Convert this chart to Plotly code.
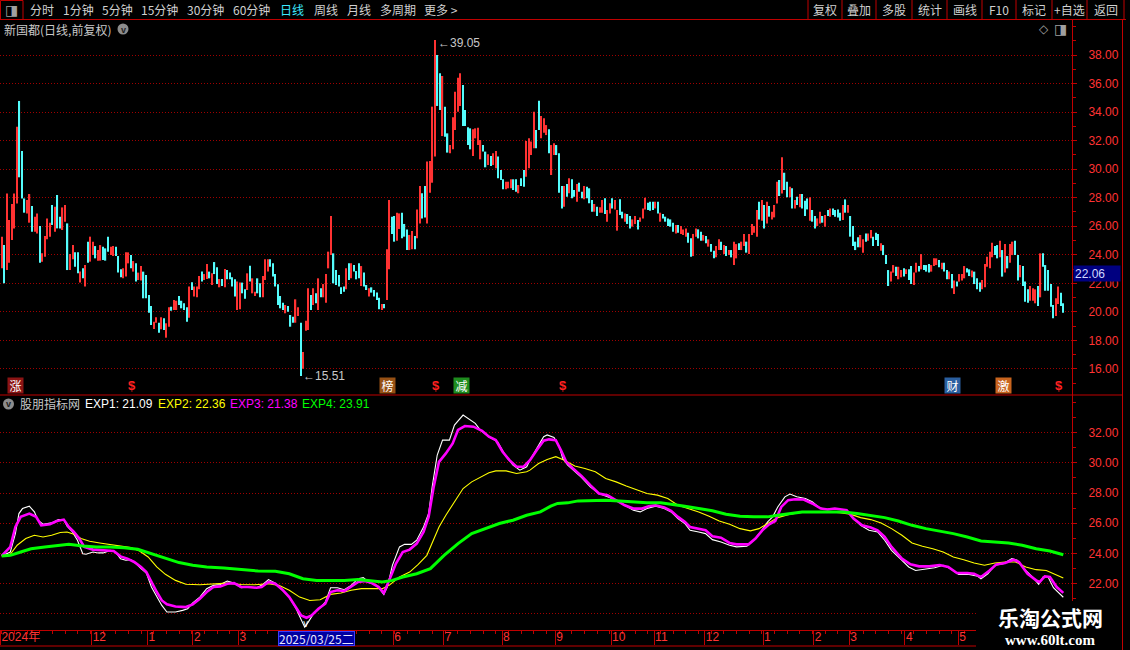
import plotly.graph_objects as go

# ---------------- data ----------------
hi = [25.27, 24.68, 28.30, 26.44, 27.56, 28.30, 32.98, 34.78, 31.27, 27.95,
      27.84, 28.26, 27.42, 26.67, 26.90, 26.02, 24.10, 25.32, 26.55, 26.25,
      27.49, 27.37, 28.19, 26.67, 27.32, 27.49, 26.20, 24.05, 24.68, 24.17,
      24.17, 22.82, 23.05, 23.28, 24.92, 25.27, 24.92, 24.61, 24.33, 24.68,
      24.57, 24.45, 25.27, 24.57, 24.61, 24.57, 23.91, 22.98, 23.05, 24.17,
      24.17, 23.98, 23.56, 23.40, 22.75, 23.21, 22.82, 22.58, 21.18, 20.41,
      19.31, 19.62, 19.24, 19.62, 19.55, 19.20, 20.32, 20.36, 20.83, 20.78,
      21.11, 20.78, 20.60, 20.32, 21.77, 22.07, 21.77, 21.77, 22.51, 22.82,
      22.65, 23.35, 22.82, 22.70, 23.49, 23.12, 22.30, 22.30, 23.00, 22.93,
      22.75, 22.42, 22.28, 22.12, 22.05, 22.05, 21.58, 22.70, 23.24, 22.35,
      21.41, 22.35, 22.00, 22.51, 23.68, 23.68, 23.68, 23.40, 22.65, 21.93,
      21.11, 20.64, 20.48, 20.41, 19.78, 19.66, 20.88, 20.32, 19.24, 17.19,
      19.38, 21.65, 21.18, 21.65, 21.30, 22.35, 21.65, 21.95, 22.65, 24.22,
      26.72, 24.10, 22.93, 22.58, 21.72, 21.77, 23.05, 23.40, 23.40, 23.28,
      22.86, 23.40, 23.21, 22.75, 21.88, 21.65, 21.72, 21.53, 21.35, 20.99,
      20.55, 20.55, 24.38, 27.84, 26.67, 26.72, 26.95, 26.90, 26.95, 26.16,
      25.78, 25.39, 25.67, 25.32, 27.18, 28.82, 28.31, 28.82, 30.53, 30.57,
      34.38, 39.05, 38.00, 36.72, 36.53, 34.38, 32.51, 31.69, 33.63, 35.43,
      36.41, 36.72, 35.89, 34.15, 32.93, 32.86, 32.79, 32.86, 32.91, 32.04,
      31.69, 31.23, 31.04, 30.92, 31.11, 31.27, 30.88, 29.94, 29.29, 29.12,
      29.12, 29.29, 29.29, 29.29, 28.89, 29.36, 29.94, 31.97, 32.16, 31.93,
      34.03, 32.74, 34.80, 33.73, 33.56, 33.09, 32.79, 31.69, 31.81, 31.69,
      31.11, 28.82, 28.82, 28.96, 29.36, 29.29, 28.54, 28.96, 29.05, 28.42,
      28.82, 28.77, 28.66, 27.84, 27.56, 27.37, 27.33, 27.84, 27.96, 27.14,
      27.61, 27.96, 27.84, 27.14, 27.89, 27.02, 26.90, 26.86, 26.72, 26.48,
      26.72, 26.44, 26.62, 27.25, 28.00, 27.65, 27.72, 27.72, 27.72, 27.72,
      26.95, 26.86, 26.67, 26.55, 26.48, 26.25, 26.09, 26.09, 26.02, 25.78,
      25.85, 25.55, 25.15, 25.46, 25.85, 25.78, 25.62, 25.39, 25.32, 25.08,
      24.75, 24.29, 24.61, 25.08, 24.92, 24.68, 24.61, 24.33, 24.33, 24.92,
      24.75, 24.80, 24.92, 25.46, 24.92, 25.46, 26.16, 26.02, 27.14, 27.72,
      27.84, 27.49, 27.72, 27.42, 27.02, 27.49, 29.12, 29.24, 30.83, 29.75,
      29.12, 28.77, 28.66, 27.84, 28.07, 28.26, 28.26, 27.79, 27.95, 28.03,
      27.14, 26.72, 26.55, 27.02, 26.72, 26.79, 27.14, 27.25, 27.25, 27.14,
      27.18, 26.95, 27.49, 27.88, 27.49, 26.72, 26.02, 24.92, 25.22, 25.39,
      25.08, 25.50, 25.50, 25.74, 25.27, 25.55, 25.46, 24.80, 24.68, 23.98,
      22.93, 22.82, 23.28, 23.16, 23.16, 22.93, 23.05, 22.98, 22.98, 23.21,
      22.75, 23.45, 23.21, 24.05, 23.28, 23.28, 23.35, 23.28, 23.75, 23.75,
      23.63, 23.45, 23.45, 22.93, 22.82, 22.65, 22.19, 22.12, 22.65, 22.65,
      23.21, 23.05, 22.98, 22.89, 22.82, 22.35, 22.05, 22.23, 23.35, 23.87,
      24.22, 24.85, 24.61, 24.68, 24.99, 24.33, 24.75, 23.91, 24.75, 24.92,
      24.99, 23.98, 23.28, 23.21, 22.12, 21.58, 21.81, 21.65, 21.58, 21.81,
      24.10, 24.10, 23.28, 22.93, 21.95, 20.48, 20.95, 21.77, 21.34, 20.60]

lo = [23.05, 22.00, 22.93, 23.45, 25.04, 25.85, 27.60, 29.43, 27.95, 26.95,
      26.90, 26.25, 25.62, 25.62, 25.50, 23.45, 23.52, 23.87, 25.08, 25.27,
      26.09, 25.62, 25.85, 25.85, 25.74, 26.32, 22.93, 22.93, 23.68, 23.17,
      22.70, 22.05, 22.35, 21.77, 23.45, 23.52, 23.98, 23.75, 23.59, 23.59,
      23.63, 23.59, 24.22, 23.98, 23.91, 23.91, 22.75, 22.42, 22.35, 22.47,
      23.40, 23.05, 22.82, 22.12, 22.23, 22.19, 20.95, 20.95, 19.94, 19.08,
      18.80, 19.24, 18.54, 18.78, 18.73, 18.19, 18.96, 20.08, 20.13, 20.13,
      20.48, 20.25, 20.13, 19.31, 19.59, 21.53, 21.07, 21.02, 21.58, 22.12,
      22.23, 22.30, 22.35, 21.88, 22.65, 21.95, 21.72, 21.81, 21.72, 22.28,
      22.28, 21.77, 21.07, 20.13, 20.18, 21.30, 20.92, 21.53, 22.12, 21.30,
      21.11, 21.30, 21.02, 21.02, 22.23, 22.82, 23.17, 22.47, 21.77, 20.48,
      20.25, 20.13, 19.90, 20.01, 18.96, 19.24, 19.24, 19.71, 15.51, 16.02,
      18.68, 18.73, 20.13, 20.48, 20.60, 20.13, 21.02, 21.02, 20.64, 23.05,
      23.98, 22.00, 21.88, 21.77, 21.25, 21.41, 21.58, 22.23, 22.35, 22.82,
      22.28, 22.35, 21.81, 21.77, 21.53, 21.07, 21.35, 21.07, 20.83, 20.18,
      20.13, 20.25, 20.83, 22.98, 25.46, 24.92, 24.99, 25.81, 25.15, 25.27,
      24.33, 24.33, 24.38, 24.38, 25.15, 26.20, 26.55, 26.62, 26.20, 28.35,
      29.05, 30.88, 34.43, 34.15, 32.32, 32.28, 31.16, 31.11, 31.39, 32.74,
      34.03, 34.43, 33.02, 33.02, 31.69, 31.39, 30.92, 32.16, 31.69, 30.69,
      31.23, 30.13, 30.29, 30.22, 30.29, 30.06, 29.36, 29.24, 28.59, 28.59,
      28.66, 28.66, 28.54, 28.42, 28.31, 28.82, 28.77, 29.47, 30.06, 30.99,
      31.46, 31.46, 32.74, 32.16, 32.56, 32.39, 31.11, 29.59, 30.99, 30.99,
      28.35, 27.25, 27.37, 28.07, 28.31, 27.96, 28.07, 27.72, 28.42, 27.96,
      27.89, 27.96, 27.61, 27.02, 27.02, 26.72, 26.95, 26.95, 26.86, 26.32,
      26.90, 27.25, 27.18, 25.69, 26.79, 26.55, 26.32, 26.16, 25.85, 25.97,
      26.16, 25.78, 26.32, 26.55, 27.18, 27.14, 27.09, 27.14, 27.25, 26.90,
      26.32, 26.55, 26.32, 26.02, 25.97, 25.62, 25.50, 25.55, 25.46, 25.39,
      25.27, 24.85, 23.87, 23.91, 25.27, 25.15, 24.99, 24.99, 24.80, 24.57,
      24.22, 23.75, 23.82, 24.33, 24.33, 24.05, 23.91, 23.98, 23.82, 23.28,
      23.75, 24.33, 24.33, 24.61, 24.15, 24.05, 25.39, 25.55, 25.27, 26.48,
      26.39, 25.85, 26.20, 26.67, 26.48, 26.62, 27.60, 28.12, 28.30, 28.54,
      28.03, 28.03, 27.25, 27.25, 27.49, 27.33, 27.25, 26.72, 27.18, 26.39,
      26.32, 25.85, 26.02, 26.20, 26.25, 25.97, 26.72, 26.67, 26.79, 26.67,
      26.62, 26.39, 26.44, 26.95, 26.95, 25.27, 24.61, 24.33, 24.52, 24.52,
      24.15, 24.92, 24.99, 25.15, 24.61, 25.04, 24.61, 24.29, 23.98, 23.35,
      21.81, 22.12, 22.75, 22.51, 22.28, 22.42, 22.47, 22.65, 22.23, 21.95,
      21.88, 22.75, 22.82, 22.98, 22.93, 22.82, 22.75, 22.82, 23.21, 23.28,
      23.12, 22.98, 22.82, 22.28, 22.28, 21.65, 21.25, 21.77, 22.12, 22.19,
      22.35, 22.75, 22.51, 22.42, 21.95, 21.58, 21.41, 21.58, 21.72, 23.16,
      23.05, 23.82, 23.98, 23.75, 23.82, 22.47, 22.75, 23.05, 23.45, 23.98,
      23.98, 22.19, 22.42, 21.81, 20.71, 20.64, 20.78, 20.78, 20.60, 20.41,
      21.02, 23.16, 21.48, 21.48, 20.36, 19.55, 19.71, 20.55, 20.41, 19.94]

# r = rising (red), c = falling (cyan)
up = ("rcrrrrrccc" "rrcrrcrrrr" "crccrrcrrc" "crcrcrrcrr" "cccrrcccrr"
      "rcrcrrcccc" "rrcrcrrcrr" "ccccrcrrrc" "rrcrccrcrc" "cccrrccrcr"
      "rccrrrcccc" "ccrcccrrcr" "rrcrcrcrrr" "rcccccrcrc" "ccrccrcccc"
      "rcrrccrrcc" "crrcrrccrr" "rrccrccrrr" "rrccccrrrr" "ccrcrrcccr"
      "rrccrccrrr" "rccrrrcrrc" "ccrcrccrcc" "rcccrcrrcr" "rcrrccrccr"
      "rcrrrcccrc" "rcccccrcrr" "rccrrccrcr" "ccrrcrcrcr" "rcrrcrrrrc"
      "rcrcrrrcrc" "crcrcrcccr" "ccrrcrcrcc" "ccrcrccccr" "rcrrcccrcc"
      "crrcrrcrcc" "rrcrcccrrr" "crccrcrcrr" "rccrcccrrr" "rrccrcrcrr"
      "ccrcccrrrc" "rcccccrrcc")

# month boundaries visible on the time strip (Apr/May under the crosshair box are hidden)
month_ticks = [-0.5, 35.5, 57.5, 75.5, 93.5, 154.5, 174.5, 197.5,
               218.5, 240.5, 257.5, 277.5, 300.5, 320.5, 334.5, 356.5, 377.5]
month_labels = ["2024年", "12", "1", "2", "3", "6", "7", "8",
                "9", "10", "11", "12", "1", "2", "3", "4", "5"]

exp1_x = [0, 3.4, 5.4, 6.8, 8.2, 10.9, 12.9, 14.3, 16.3, 19.7,
          22.4, 24.5, 25.8, 27.9, 29.9, 32.0, 33.3, 36.0, 38.1, 40.1,
          42.8, 44.9, 46.9, 49.0, 51.0, 53.0, 55.0, 57.1, 59.1, 61.2,
          63.2, 65.2, 68.6, 71.4, 73.4, 75.4, 78.2, 80.9, 83.6, 86.3,
          89.0, 91.7, 94.5, 97.2, 100.6, 102.6, 105.3, 108.0, 110.8, 113.5,
          116.2, 118.2, 119.6, 121.0, 123.0, 125.7, 127.7, 129.8, 132.5, 135.2,
          137.9, 140.7, 142.7, 145.4, 148.1, 150.8, 152.2, 154.2, 157.0, 159.0,
          161.7, 163.8, 166.5, 168.5, 169.9, 171.9, 174.0, 176.7, 178.7, 182.1,
          184.1, 186.9, 188.9, 192.3, 195.7, 199.1, 201.8, 204.5, 207.2,
          208.5, 211.2, 213.9, 215.3, 218.0, 220.1, 221.4, 223.4, 226.2, 228.9,
          232.3, 235.7, 239.1, 242.5, 245.9, 249.3, 252.0, 254.7, 258.1, 261.5,
          264.2, 266.9, 269.6, 271.7, 275.1, 277.8, 280.5, 283.9, 287.3, 290.0,
          294.1, 296.8, 299.5, 302.3, 304.3, 306.3, 309.1, 311.1, 313.8, 317.2,
          319.9, 322.6, 325.4, 328.1, 330.8, 333.5, 335.6, 339.0, 342.3, 345.7,
          348.5, 351.2, 354.6, 358.0, 360.7, 364.8, 368.2, 371.6, 374.3, 377.7,
          381.8, 385.2, 386.5, 389.2, 392.0, 395.3, 398.7, 400.8, 404.2, 406.9,
          409.3, 411.0, 413.0, 415.1, 419]
exp1 = [23.83, 24.09, 25.31, 26.64, 26.97, 27.13, 26.75, 26.20, 25.93, 26.02,
        26.24, 26.24, 25.80, 25.42, 24.87, 23.98, 23.94, 24.09, 24.03, 24.03,
        24.20, 24.09, 23.65, 23.54, 23.58, 23.32, 22.99, 22.69, 21.77, 21.10,
        20.55, 20.11, 20.11, 20.22, 20.33, 20.71, 21.10, 21.66, 21.88, 21.94,
        22.17, 22.03, 21.72, 21.77, 21.72, 21.88, 22.26, 22.03, 21.59, 21.10,
        20.33, 19.66, 19.11, 19.44, 19.99, 20.39, 20.77, 21.72, 21.72, 21.59,
        21.88, 22.32, 22.39, 22.03, 21.88, 21.28, 21.77, 23.21, 24.43, 24.60,
        24.60, 24.87, 25.75, 26.64, 28.41, 30.52, 31.51, 31.51, 32.51, 33.17,
        32.95, 32.62, 32.18, 31.73, 31.40, 30.41, 29.85, 29.52, 29.74,
        30.18, 30.96, 31.73, 31.85, 31.69, 31.07, 30.30, 29.85, 29.41, 29.03,
        28.41, 27.97, 27.75, 27.53, 27.19, 26.86, 26.75, 26.97, 27.13, 26.97,
        26.75, 26.31, 25.98, 25.53, 25.42, 25.31, 24.91, 24.76, 24.54, 24.43,
        24.47, 24.87, 25.42, 26.09, 26.42, 27.08, 27.75, 27.93, 27.75, 27.64,
        27.42, 27.04, 26.91, 26.97, 26.91, 26.86, 26.42, 25.86, 25.53, 25.42,
        24.87, 24.20, 23.65, 23.10, 22.87, 22.99, 23.05, 23.21, 22.99, 22.61,
        22.61, 22.48, 22.32, 22.65, 23.21, 23.32, 23.65, 23.54, 22.87, 22.43,
        21.95, 22.43, 22.43, 21.72, 21.09]

exp2_x = [0, 3.4, 6.1, 9.5, 12.9, 16.3, 19.7, 23.1, 25.8, 28.5,
          31.3, 34.7, 38.7, 42.8, 46.9, 51.0, 54.4, 57.8, 61.2, 64.6,
          68.6, 72.7, 78.2, 83.6, 89.0, 94.5, 99.9, 105.3, 109.4, 113.5,
          117.6, 121.6, 125.7, 129.8, 133.9, 137.9, 142.0, 147.5, 150.2, 152.9,
          157.0, 161.0, 164.4, 167.8, 170.5, 172.6, 175.3, 178.7, 182.1, 185.5,
          188.9, 192.3, 195.0, 199.1, 203.2, 207.2,
          208.5, 211.9, 215.3, 218.7, 222.1, 226.2, 230.2, 234.3, 238.4, 242.5,
          246.5, 250.6, 254.7, 258.8, 262.9, 266.9, 271.0, 275.1, 279.2, 283.2,
          287.3, 291.4, 295.5, 298.9, 302.3, 306.3, 310.4, 314.5, 318.6, 322.6,
          326.7, 330.8, 334.9, 339.0, 343.0, 347.1, 351.2, 355.3, 359.3, 363.4,
          367.5, 371.6, 375.6, 379.7, 383.8, 387.9, 392.0, 396.0, 400.1, 404.2,
          408.3, 412.3, 415.1, 419]
exp2 = [23.83, 23.94, 24.54, 24.98, 25.20, 25.09, 25.20, 25.38, 25.42, 25.27,
        24.98, 24.80, 24.69, 24.60, 24.47, 24.38, 24.16, 23.76, 23.10, 22.61,
        22.21, 21.95, 21.92, 21.99, 22.03, 21.94, 21.92, 21.99, 21.88, 21.55,
        21.10, 20.88, 20.93, 21.28, 21.37, 21.55, 21.66, 21.66, 21.66, 21.88,
        22.43, 22.76, 23.27, 23.87, 24.87, 25.75, 26.53, 27.42, 28.30, 28.74,
        29.03, 29.34, 29.47, 29.47, 29.30, 29.41,
        29.52, 29.96, 30.23, 30.41, 30.18, 29.79, 29.63, 29.41, 28.97, 28.74,
        28.46, 28.19, 27.97, 27.86, 27.64, 27.19, 26.97, 26.75, 26.46, 26.15,
        25.93, 25.64, 25.49, 25.64, 25.98, 26.37, 26.57, 26.69, 26.75, 26.75,
        26.75, 26.69, 26.60, 26.37, 26.24, 26.02, 25.64, 25.20, 24.69, 24.47,
        24.31, 24.09, 23.76, 23.58, 23.36, 23.21, 23.36, 23.43, 23.43, 23.10,
        22.92, 22.87, 22.65, 22.36]

exp3_x = [0, 3.4, 5.4, 7.5, 10.9, 13.6, 15.6, 19.0, 21.8, 24.5,
          26.5, 28.5, 30.6, 32.6, 36.0, 40.1, 44.2, 46.9, 49.6, 52.3,
          55.0, 57.1, 59.1, 61.2, 63.2, 65.2, 68.6, 72.7, 75.4, 78.2,
          80.9, 83.6, 86.3, 89.0, 91.7, 94.5, 97.2, 100.6, 102.6, 105.3,
          108.0, 110.8, 113.5, 116.2, 118.2, 120.3, 122.3, 125.0, 127.7, 129.8,
          132.5, 135.2, 137.9, 140.7, 143.4, 146.1, 148.8, 150.8, 152.9, 155.6,
          158.3, 161.0, 163.8, 166.5, 168.5, 170.5, 172.6, 175.3, 178.0, 180.1,
          182.8, 186.2, 189.6, 192.3, 195.0, 197.7, 200.4, 203.2, 205.9,
          208.5, 211.2, 213.9, 216.0, 218.7, 220.7, 222.8, 225.5, 228.9, 232.3,
          235.7, 239.1, 242.5, 245.9, 249.3, 252.7, 255.4, 258.1, 261.5, 264.2,
          266.9, 269.6, 271.7, 275.1, 277.8, 280.5, 283.9, 287.3, 290.0, 294.8,
          297.5, 300.2, 302.9, 305.3, 307.7, 310.4, 313.1, 316.5, 319.9, 323.3,
          326.0, 328.8, 331.5, 333.5, 336.2, 339.6, 343.0, 345.7, 348.5, 351.2,
          355.3, 358.7, 362.1, 366.1, 370.2, 373.6, 377.0, 381.1, 383.8, 386.5,
          389.9, 392.6, 396.0, 399.4, 401.5, 404.9, 408.3, 409.6, 411.7, 413.7,
          416.4, 419]
exp3 = [23.83, 24.43, 25.75, 26.42, 26.64, 26.42, 25.86, 25.93, 26.15, 26.24,
        25.75, 25.42, 24.98, 24.43, 24.25, 24.20, 24.16, 23.80, 23.65, 23.43,
        23.10, 22.76, 22.10, 21.44, 20.88, 20.62, 20.48, 20.44, 20.62, 20.99,
        21.44, 21.77, 21.81, 21.99, 22.03, 21.77, 21.77, 21.72, 21.77, 22.10,
        21.99, 21.59, 21.10, 20.44, 19.88, 19.73, 19.88, 20.33, 20.66, 21.44,
        21.55, 21.50, 21.77, 22.10, 22.17, 22.03, 21.77, 21.37, 22.21, 23.32,
        24.09, 24.25, 24.65, 25.42, 26.42, 28.41, 30.07, 30.63, 31.29, 32.18,
        32.44, 32.40, 32.13, 31.73, 31.51, 30.74, 30.18, 29.74, 29.74,
        30.18, 30.85, 31.47, 31.56, 31.51, 30.85, 30.07, 29.63, 29.12, 28.52,
        27.97, 27.86, 27.53, 27.19, 26.97, 26.97, 27.13, 27.19, 27.04, 26.82,
        26.42, 26.09, 25.75, 25.64, 25.53, 25.13, 25.04, 24.69, 24.60, 24.60,
        24.98, 25.53, 25.93, 26.15, 27.08, 27.53, 27.59, 27.57, 27.31, 26.97,
        26.91, 26.97, 26.91, 26.86, 26.31, 25.86, 25.71, 25.53, 25.09, 24.43,
        23.65, 23.27, 23.14, 23.14, 23.23, 23.10, 22.70, 22.70, 22.65, 22.43,
        22.87, 23.27, 23.36, 23.58, 23.43, 22.65, 22.21, 22.10, 22.48, 22.43,
        21.77, 21.38]

exp4_x = [0, 3.4, 7.5, 11.6, 17.0, 22.4, 26.5, 32.0, 37.4, 42.8,
          48.3, 53.7, 59.1, 64.6, 70.0, 75.4, 80.9, 87.7, 94.5, 101.2,
          108.0, 113.5, 118.9, 124.3, 129.8, 135.2, 140.7, 146.1, 150.2, 154.2,
          158.3, 163.8, 169.2, 174.6, 180.1, 185.5, 191.0, 196.4, 201.8, 207.2,
          212.6, 216.7, 219.4, 223.4, 227.5, 233.0, 238.4, 243.8, 249.3, 254.7,
          260.1, 264.2, 269.6, 275.1, 280.5, 285.9, 291.4, 296.8, 302.3, 306.3,
          310.4, 315.9, 321.3, 326.7, 332.2, 337.6, 343.0, 348.5, 353.9, 359.3,
          364.8, 370.2, 375.6, 381.1, 386.5, 391.9, 397.4, 402.8, 408.3, 413.7,
          419]
exp4 = [23.83, 23.87, 24.09, 24.31, 24.43, 24.54, 24.60, 24.49, 24.43, 24.43,
        24.38, 24.27, 23.98, 23.65, 23.39, 23.21, 23.10, 23.03, 22.94, 22.83,
        22.81, 22.65, 22.32, 22.21, 22.21, 22.21, 22.26, 22.17, 22.10, 22.21,
        22.43, 22.65, 22.99, 23.87, 24.65, 25.31, 25.64, 25.98, 26.20, 26.53,
        26.75, 27.13, 27.31, 27.35, 27.48, 27.53, 27.53, 27.48, 27.42, 27.35,
        27.35, 27.26, 27.13, 26.97, 26.82, 26.60, 26.46, 26.42, 26.42, 26.53,
        26.64, 26.75, 26.75, 26.75, 26.75, 26.64, 26.53, 26.37, 26.15, 25.86,
        25.64, 25.49, 25.31, 25.09, 24.82, 24.76, 24.69, 24.54, 24.31, 24.16,
        23.91]

exp_names = ["EXP1", "EXP2", "EXP3", "EXP4"]
exp_last = [21.09, 22.36, 21.38, 23.91]

top_ticks = [16, 18, 20, 22, 24, 26, 28, 30, 32, 34, 36, 38]
bot_ticks = [20, 22, 24, 26, 28, 30, 32]
bot_labels = ["", "22.00", "24.00", "26.00", "28.00", "30.00", "32.00"]  # 20.00 hidden by watermark

high_idx, high_val = 171, 39.05
low_idx, low_val = 118, 15.51
last_price = 22.06
cross_idx, cross_date = 124.4, "2025/03/25二"

sig_x = [5.6, 51.4, 152.4, 171.4, 181.3, 221.5, 375.4, 395.5, 417.3]
sig_txt = ["涨", "$", "榜", "$", "减", "$", "财", "激", "$"]

# ---------------- styling / layout helpers ----------------
FONT = "Liberation Sans, Noto Sans CJK SC, sans-serif"
CJK = "Noto Sans CJK SC, Liberation Sans, sans-serif"
RED = "#ff3232"
CYAN = "#54fcfc"
LINE = "#c00000"
GRID = "#a00000"
LABEL = "#ff3333"
GREY = "#d0d0d0"

PL, PR, PT, PB = 0, 1072, 20, 630
def xp(px):
    return (px - PL) / (PR - PL)
def yp(py):
    return (PB - py) / (PB - PT)

N = len(hi)
assert len(lo) == N and len(up) == N
first_px, last_px = 1.7, 1063.3
pitch = (last_px - first_px) / (N - 1)
x_range = [-first_px / pitch, (N - 1) + (PR - last_px) / pitch]
split = yp(395)

fig = go.Figure()

up_i = [i for i in range(N) if up[i] == "r"]
dn_i = [i for i in range(N) if up[i] == "c"]
for ids, col in ((up_i, RED), (dn_i, CYAN)):
    fig.add_trace(go.Bar(
        x=ids, base=[lo[i] for i in ids], y=[hi[i] - lo[i] for i in ids],
        width=0.5, marker=dict(color=col, line=dict(width=0)),
        xaxis="x", yaxis="y", hoverinfo="skip", showlegend=False))

for xs, ys, col, w in ((exp1_x, exp1, "#ffffff", 1.1),
                       (exp2_x, exp2, "#ffff00", 1.1),
                       (exp3_x, exp3, "#ff00ff", 2.6),
                       (exp4_x, exp4, "#00ff00", 3.0)):
    fig.add_trace(go.Scatter(x=xs, y=ys, mode="lines",
                             line=dict(color=col, width=w),
                             xaxis="x", yaxis="y2", hoverinfo="skip",
                             showlegend=False))

yaxis_common = dict(
    side="right", anchor="x", showline=True, linecolor=LINE, linewidth=1,
    ticks="outside", ticklen=4, tickcolor=LINE, showgrid=True,
    gridcolor=GRID, griddash="1px,2px", gridwidth=1, zeroline=False,
    tickfont=dict(color=LABEL, size=12, family=FONT), ticklabelstandoff=9,
    minor=dict(ticks="outside", ticklen=3, dtick=1, tick0=0,
               tickcolor=LINE, showgrid=False),
    fixedrange=True)

fig.update_layout(
    width=1130, height=650,
    margin=dict(l=PL, r=1130 - PR, t=PT, b=650 - PB),
    paper_bgcolor="#000000", plot_bgcolor="#000000",
    barmode="overlay", showlegend=False,
    font=dict(family=FONT, color=GREY, size=12),
    xaxis=dict(domain=[0, 1], anchor="y2", range=x_range,
               showgrid=False, zeroline=False, showline=True,
               linecolor=LINE, linewidth=1,
               tickmode="array", tickvals=month_ticks, ticktext=month_labels,
               ticks="outside", ticklen=14, tickcolor=LINE,
               tickfont=dict(color=LABEL, size=12, family=FONT),
               ticklabelposition="outside right", ticklabelstandoff=-4,
               minor=dict(ticks="outside", ticklen=3, dtick=5, tick0=0,
                          tickcolor=LINE),
               fixedrange=True),
    yaxis=dict(domain=[split, 1], range=[14.174, 40.453],
               tickmode="array", tickvals=top_ticks,
               ticktext=[f"{v:.2f}" for v in top_ticks], **yaxis_common),
    yaxis2=dict(domain=[0, split], range=[18.92, 34.50],
                tickmode="array", tickvals=bot_ticks,
                ticktext=bot_labels, **yaxis_common),
)

shapes = []
def pline(x0, y0, x1, y1, color=LINE, width=1):
    shapes.append(dict(type="line", xref="paper", yref="paper",
                       x0=xp(x0), y0=yp(y0), x1=xp(x1), y1=yp(y1),
                       line=dict(color=color, width=width)))

# header frame
pline(0, 19.5, 1126, 19.5)
shapes.append(dict(type="rect", xref="paper", yref="paper",
                   x0=xp(0.5), y0=yp(0.5), x1=xp(23), y1=yp(19.5),
                   line=dict(color=LINE, width=1)))
for sx in (808, 842, 876, 912, 947, 982, 1016, 1052, 1087, 1124):
    pline(sx, 0, sx, 19.5)
# panel separator, right column, date strip lower border
pline(0, 395, 1122, 395)
pline(1122.5, 19.5, 1122.5, 650)
pline(0, 646, 976, 646)
# round icons
for cx, cy in ((123, 29), (8.5, 404)):
    shapes.append(dict(type="circle", xref="paper", yref="paper",
                       x0=xp(cx - 5.5), y0=yp(cy - 5.5), x1=xp(cx + 5.5), y1=yp(cy + 5.5),
                       fillcolor="#8c8c8c", line=dict(width=0)))
# watermark backing
shapes.append(dict(type="rect", xref="paper", yref="paper",
                   x0=xp(976), y0=yp(601), x1=xp(1121.5), y1=yp(650),
                   fillcolor="#000000", line=dict(width=0)))
fig.update_layout(shapes=shapes)

ann = []
def ptext(x, y, text, color=GREY, size=12, xanchor="left", family=CJK, **kw):
    ann.append(dict(xref="paper", yref="paper", x=xp(x), y=yp(y), text=text,
                    showarrow=False, xanchor=xanchor, yanchor="middle",
                    font=dict(color=color, size=size, family=family), **kw))

# header menu
ptext(11.5, 10, "◨", color="#a0a0a0", size=14, xanchor="center", family="DejaVu Sans")
menu = [(28, "分时"), (61, "1分钟"), (100, "5分钟"), (139, "15分钟"), (185, "30分钟"),
        (231, "60分钟"), (278, "日线"), (312, "周线"), (345, "月线"), (378, "多周期"),
        (422, "更多 >")]
for mx, mt in menu:
    ptext(mx, 10, mt, color="#3ce8ff" if mt == "日线" else GREY)
buttons = [(825, "复权"), (859, "叠加"), (894, "多股"), (929.5, "统计"), (964.5, "画线"),
           (999, "F10"), (1034, "标记"), (1069.5, "+自选"), (1105.5, "返回")]
for bx, bt in buttons:
    ptext(bx, 10, bt, xanchor="center")

# title row
ptext(2, 29, "新国都(日线,前复权)", color="#c8c8c8")
ptext(123, 29.5, "<b>v</b>", color="#1e1e1e", size=9, xanchor="center", family=FONT)
ptext(1044, 29, "◇", color="#a0a0a0", size=12, xanchor="center", family="DejaVu Sans")
ptext(1060, 29, "◨", color="#a0a0a0", size=14, xanchor="center", family="DejaVu Sans")

# indicator legend
ptext(8.5, 404.5, "<b>v</b>", color="#1e1e1e", size=9, xanchor="center", family=FONT)
ptext(18, 404, "股朋指标网", color="#c8c8c8")
leg_x = [83, 155.5, 228, 300]
leg_col = ["#ffffff", "#ffff00", "#ff00ff", "#00ff00"]
for lx, nm, val, col in zip(leg_x, exp_names, exp_last, leg_col):
    ptext(lx, 404, f"{nm}: {val:.2f}", color=col, family=FONT)

# extremes on the price panel
ann.append(dict(xref="x", yref="y", x=high_idx + 0.3, y=high_val, text=f"←{high_val:.2f}",
                showarrow=False, xanchor="left", yanchor="middle", yshift=-3,
                font=dict(color="#c8c8c8", size=12, family=FONT)))
ann.append(dict(xref="x", yref="y", x=low_idx + 0.3, y=low_val, text=f"←{low_val:.2f}",
                showarrow=False, xanchor="left", yanchor="middle",
                font=dict(color="#c8c8c8", size=12, family=FONT)))

# signal badges
badge_bg = {"涨": "#8b1414", "榜": "#965014", "减": "#1e8c1e", "财": "#2a5fa0", "激": "#c8641e"}
for sx, st in zip(sig_x, sig_txt):
    if st == "$":
        ann.append(dict(xref="x", yref="y", x=sx, y=14.85, text="<b>$</b>",
                        showarrow=False, xanchor="center", yanchor="middle",
                        font=dict(color="#ff2020", size=13, family=FONT)))
    else:
        ann.append(dict(xref="x", yref="y", x=sx, y=14.85, text=st,
                        showarrow=False, xanchor="center", yanchor="middle",
                        bgcolor=badge_bg[st], borderpad=1, width=13, height=13,
                        font=dict(color="#ffffff", size=12, family=CJK)))

# current price tag on the axis
ann.append(dict(xref="paper", yref="y", x=xp(1073), y=last_price, text=f"{last_price:.2f}",
                showarrow=False, xanchor="left", yanchor="bottom", width=44, height=13,
                align="left", bgcolor="#000080", borderpad=1,
                font=dict(color="#d0d8ff", size=12, family=FONT)))

# crosshair date on the time strip
ann.append(dict(xref="x", yref="paper", x=cross_idx, y=yp(638), text=cross_date,
                showarrow=False, xanchor="center", yanchor="middle", height=13,
                bgcolor="#0000a0", bordercolor="#3c3cff", borderwidth=1, borderpad=0,
                font=dict(color="#e8e8ff", size=12, family=CJK)))
ann.append(dict(xref="x", yref="paper", x=cross_idx - 4.3, y=yp(623), text="∨",
                showarrow=False, xanchor="center", yanchor="middle",
                font=dict(color="#ffffff", size=10, family="DejaVu Sans")))

# watermark
ptext(1050, 617, "<b>乐淘公式网</b>", color="#ffffff", size=21, xanchor="center")
ptext(1050, 640, "<b>www.60lt.com</b>", color="#ffffff", size=15, xanchor="center",
      family="Liberation Serif, serif")

fig.update_layout(annotations=ann)
fig.write_html("out.html", config={"displayModeBar": False},
               post_script="document.body.style.margin='0px';document.body.style.overflow='hidden';")
